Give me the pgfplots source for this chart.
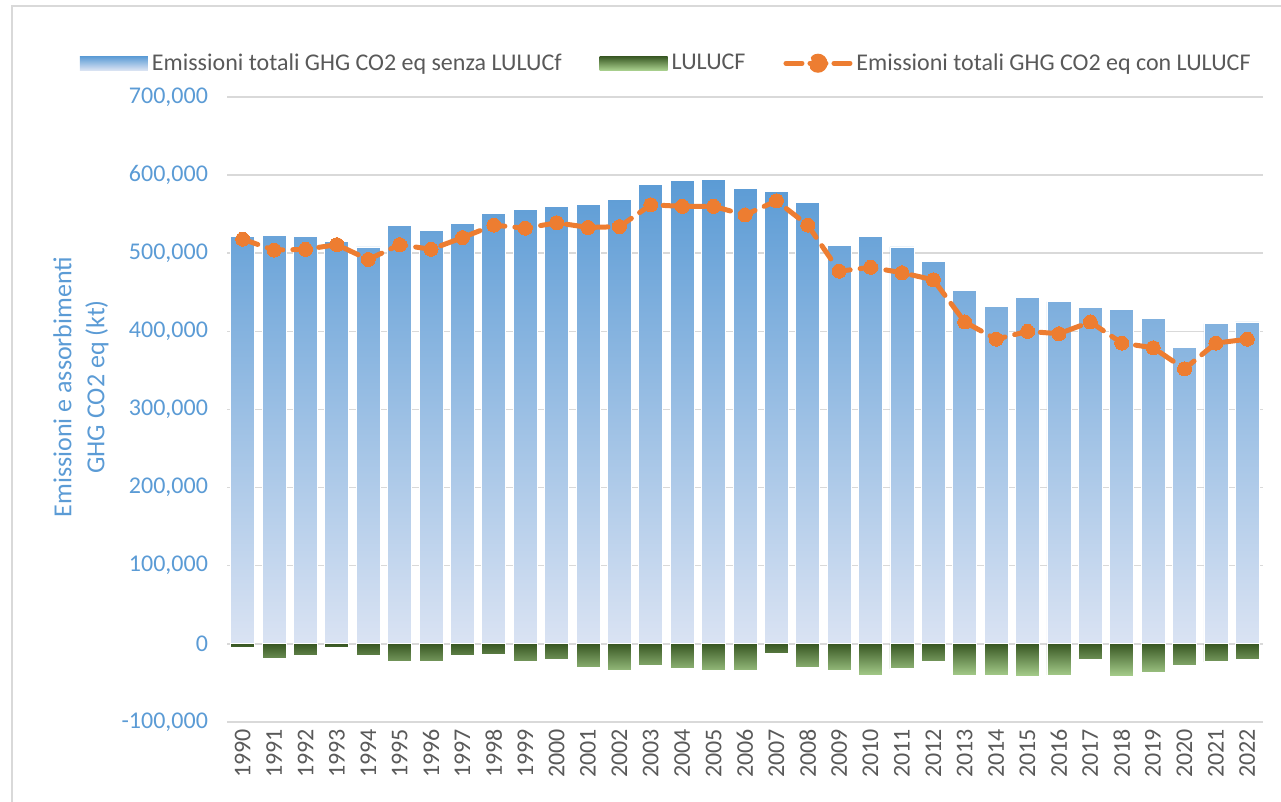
\documentclass[border=0pt]{standalone}
\usepackage{fontspec}
\setmainfont{Carlito}
\usepackage{pgfplots}
\pgfplotsset{compat=1.18}
\usetikzlibrary{calc}

\definecolor{barTop}{RGB}{91,155,213}
\definecolor{barBot}{RGB}{218,227,243}
\definecolor{lulTop}{RGB}{56,87,35}
\definecolor{lulBot}{RGB}{169,208,142}
\definecolor{arancio}{RGB}{237,125,49}
\definecolor{testo}{RGB}{89,89,89}
\definecolor{griglia}{RGB}{217,217,217}

\begin{document}
\begin{tikzpicture}
  \begin{axis}[
    scale only axis, width=518pt, height=312.5pt,
    xmin=1989.5, xmax=2022.5,
    ymin=-100000, ymax=700000,
    ytick={-100000,0,100000,200000,300000,400000,500000,600000,700000},
    xtick={1990,...,2022},
    axis line style={draw=none},
    major tick length=0pt,
    ymajorgrids, grid style={griglia, line width=0.75pt},
    font=\fontsize{12}{14}\selectfont,
    scaled y ticks=false,
    /pgf/number format/assume math mode=true,
    yticklabel style={text=barTop, xshift=-6pt,
      /pgf/number format/.cd, fixed, 1000 sep={,}},
    xticklabel style={rotate=90, anchor=east, text=testo,
      /pgf/number format/.cd, 1000 sep={}},
    ylabel={Emissioni e assorbimenti\\GHG CO2 eq (kt)},
    ylabel style={align=center, text=barTop, rotate=0,
      at={(axis description cs:-0.141,0.536)}, anchor=center,
      font=\fontsize{13}{16.5}\selectfont},
    legend columns=3,
    legend style={draw=none, fill=none, text=testo,
      at={(axis description cs:0.425,1.054)}, anchor=center,
      font=\fontsize{12}{14}\selectfont,
      /tikz/every even column/.append style={column sep=17pt}},
  ]
    % emissioni senza LULUCF (kt)
    \addplot[ybar, bar width=12pt, bar shift=0pt, draw=white, line width=0.4pt,
      top color=barTop, bottom color=barBot,
      legend image code/.code={\shade[top color=barTop, bottom color=barBot, draw=none]
        (0pt,-3.5pt) rectangle (34pt,3.5pt);}]
      coordinates {(1990,521000)(1991,523000)(1992,521000)(1993,515000)(1994,508000)
        (1995,536000)(1996,529000)(1997,538000)(1998,551000)(1999,556000)
        (2000,560000)(2001,562000)(2002,569000)(2003,588000)(2004,593000)
        (2005,595000)(2006,583000)(2007,579000)(2008,565000)(2009,510000)
        (2010,521000)(2011,508000)(2012,489000)(2013,452000)(2014,432000)
        (2015,443000)(2016,438000)(2017,431000)(2018,428000)(2019,416000)
        (2020,379000)(2021,410000)(2022,412000)};
    \addlegendentry{Emissioni totali GHG CO2 eq senza LULUCf}
    % LULUCF
    \addplot[ybar, bar width=12pt, bar shift=0pt, draw=white, line width=0.4pt,
      top color=lulTop, bottom color=lulBot,
      legend image code/.code={\shade[top color=lulTop, bottom color=lulBot, draw=none]
        (0pt,-3.5pt) rectangle (34pt,3.5pt);}]
      coordinates {(1990,-4000)(1991,-18000)(1992,-15000)(1993,-4000)(1994,-15000)
        (1995,-23000)(1996,-23000)(1997,-15000)(1998,-14000)(1999,-22000)
        (2000,-20000)(2001,-30000)(2002,-34000)(2003,-27000)(2004,-32000)
        (2005,-34000)(2006,-34000)(2007,-12000)(2008,-30000)(2009,-34000)
        (2010,-40000)(2011,-32000)(2012,-23000)(2013,-40000)(2014,-40000)
        (2015,-42000)(2016,-40000)(2017,-20000)(2018,-42000)(2019,-37000)
        (2020,-27000)(2021,-23000)(2022,-20000)};
    \addlegendentry{LULUCF}
    % emissioni con LULUCF
    \addplot[arancio, line width=2.5pt, dash pattern=on 8pt off 5pt, line cap=round,
      mark=*, mark size=3.5pt, mark options={solid, fill=arancio, draw=arancio, line width=0pt},
      legend image code/.code={
        \draw[arancio, line width=2.5pt, dash pattern=on 8pt off 4pt, line cap=round] (0pt,0pt) -- (32pt,0pt);
        \fill[arancio] (16pt,0pt) circle (3.5pt);}]
      coordinates {(1990,518000)(1991,504000)(1992,505000)(1993,511000)(1994,492000)
        (1995,511000)(1996,505000)(1997,520000)(1998,536000)(1999,532000)
        (2000,539000)(2001,533000)(2002,534000)(2003,562000)(2004,560000)
        (2005,560000)(2006,549000)(2007,567000)(2008,536000)(2009,477000)
        (2010,482000)(2011,475000)(2012,466000)(2013,412000)(2014,390000)
        (2015,400000)(2016,397000)(2017,412000)(2018,385000)(2019,379000)
        (2020,352000)(2021,385000)(2022,390000)};
    \addlegendentry{Emissioni totali GHG CO2 eq con LULUCF}
    \coordinate (pa) at (rel axis cs:0,0);
    \coordinate (pb) at (rel axis cs:1,1);
  \end{axis}
  \draw[griglia, line width=1pt] ($(pa)+(-107.5pt,-45pt)$) |- ($(pb)+(15pt,45.5pt)$);
  \pgfresetboundingbox
  \path ($(pa)+(-113.5pt,-39.5pt)$) rectangle ($(pb)+(9pt,48.5pt)$);
\end{tikzpicture}
\end{document}
